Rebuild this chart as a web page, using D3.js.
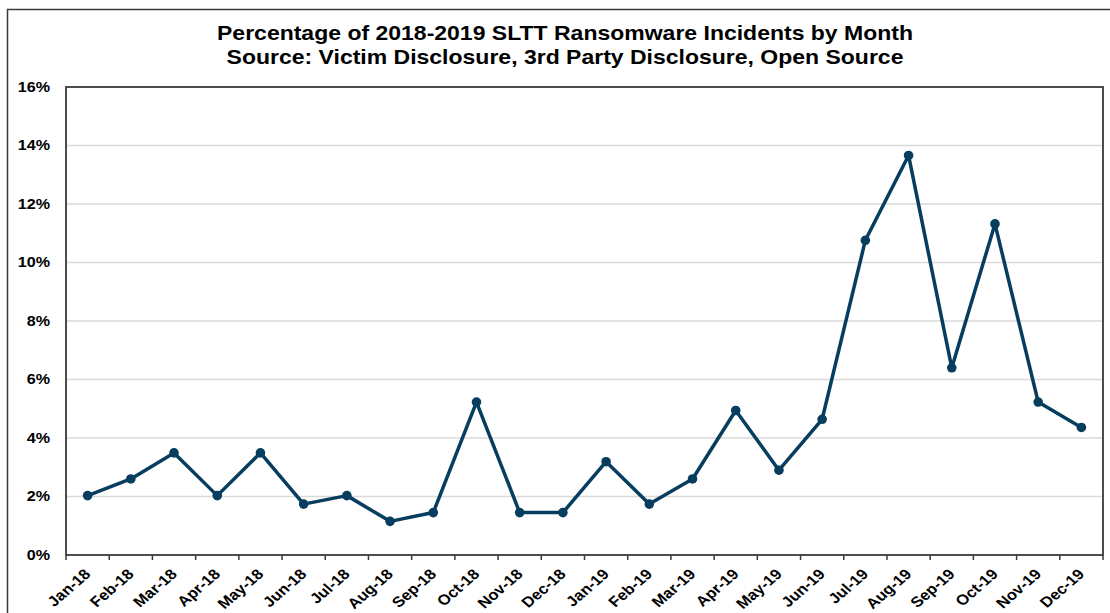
<!DOCTYPE html>
<html>
<head>
<meta charset="utf-8">
<script src="https://cdn.jsdelivr.net/npm/d3@7"></script>
<style>
  body { margin: 0; background: #fff; }
  svg { display: block; font-family: "Liberation Sans", Arial, sans-serif; }
  .grid line { stroke: #d9d9d9; stroke-width: 1.5; }
  .axis text { font-weight: bold; fill: #000; }
</style>
</head>
<body>
<svg id="chart" width="1110" height="613"></svg>
<script>
const months = ["Jan-18", "Feb-18", "Mar-18", "Apr-18", "May-18", "Jun-18", "Jul-18", "Aug-18",
  "Sep-18", "Oct-18", "Nov-18", "Dec-18", "Jan-19", "Feb-19", "Mar-19", "Apr-19", "May-19",
  "Jun-19", "Jul-19", "Aug-19", "Sep-19", "Oct-19", "Nov-19", "Dec-19"];
const pct = [2.03, 2.6, 3.49, 2.03, 3.49, 1.74, 2.03, 1.15, 1.45, 5.23, 1.45, 1.45,
  3.19, 1.74, 2.6, 4.94, 2.9, 4.64, 10.76, 13.66, 6.4, 11.32, 5.23, 4.36];
const yTicks = [0, 2, 4, 6, 8, 10, 12, 14, 16];
const titleLines = ["Percentage of 2018-2019 SLTT Ransomware Incidents by Month",
  "Source: Victim Disclosure, 3rd Party Disclosure, Open Source"];

const margin = { top: 87, right: 7, bottom: 58, left: 66 };
const width = 1110, height = 613;
const w = width - margin.left - margin.right;
const h = height - margin.top - margin.bottom;
const stretch = 1.15; // source picture looks widened a bit

const svg = d3.select("#chart");

// outer chart border (only left and top visible)
svg.append("path")
  .attr("d", "M7.5,613 L7.5,9.5 L1110,9.5")
  .attr("fill", "none")
  .attr("stroke", "#3a3a3a")
  .attr("stroke-width", 1.5);

svg.append("g")
  .selectAll("text")
  .data(titleLines)
  .join("text")
  .attr("transform", (d, i) => "translate(565," + (40 + i * 24) + ") scale(" + stretch + ",1)")
  .attr("text-anchor", "middle")
  .attr("font-size", "20px")
  .attr("font-weight", "bold")
  .text(d => d);

const g = svg.append("g")
  .attr("transform", "translate(" + margin.left + "," + margin.top + ")");

const x = d3.scaleBand().domain(months).range([0, w]);
const y = d3.scaleLinear().domain([0, 16]).range([h, 0]);

g.append("g")
  .attr("class", "grid")
  .selectAll("line")
  .data(yTicks.slice(1, -1))
  .join("line")
  .attr("x1", 0)
  .attr("x2", w)
  .attr("y1", d => y(d))
  .attr("y2", d => y(d));

// y axis labels
const yAxis = g.append("g")
  .attr("class", "axis")
  .call(d3.axisLeft(y).tickValues(yTicks).tickFormat(d => d + "%").tickSize(0));
yAxis.select(".domain").remove();
yAxis.selectAll("text")
  .attr("font-size", "14px")
  .attr("x", -16 / stretch)
  .attr("transform", "scale(" + stretch + ",1)");

// x axis ticks at band edges
const edges = months.map(m => x(m)).concat([w]);
g.append("g")
  .selectAll("line")
  .data(edges)
  .join("line")
  .attr("x1", d => d)
  .attr("x2", d => d)
  .attr("y1", h)
  .attr("y2", h + 5)
  .attr("stroke", "#3a3a3a")
  .attr("stroke-width", 1.5);

g.append("g")
  .attr("class", "axis")
  .selectAll("text")
  .data(months)
  .join("text")
  .attr("text-anchor", "end")
  .attr("font-size", "14.5px")
  .attr("transform", d => "translate(" + (x(d) + x.bandwidth() / 2 + 4) + "," + (h + 20) + ") scale(" + stretch + ",1) rotate(-45)")
  .text(d => d);

// plot area border
g.append("rect")
  .attr("width", w)
  .attr("height", h)
  .attr("fill", "none")
  .attr("stroke", "#3a3a3a")
  .attr("stroke-width", 1.8);

const line = d3.line()
  .x((d, i) => x(months[i]) + x.bandwidth() / 2)
  .y(d => y(d));

g.append("path")
  .datum(pct)
  .attr("fill", "none")
  .attr("stroke", "#073d5e")
  .attr("stroke-width", 3.5)
  .attr("stroke-linejoin", "round")
  .attr("d", line);

g.append("g")
  .selectAll("circle")
  .data(pct)
  .join("circle")
  .attr("cx", (d, i) => x(months[i]) + x.bandwidth() / 2)
  .attr("cy", d => y(d))
  .attr("r", 4.8)
  .attr("fill", "#073d5e");
</script>
</body>
</html>
